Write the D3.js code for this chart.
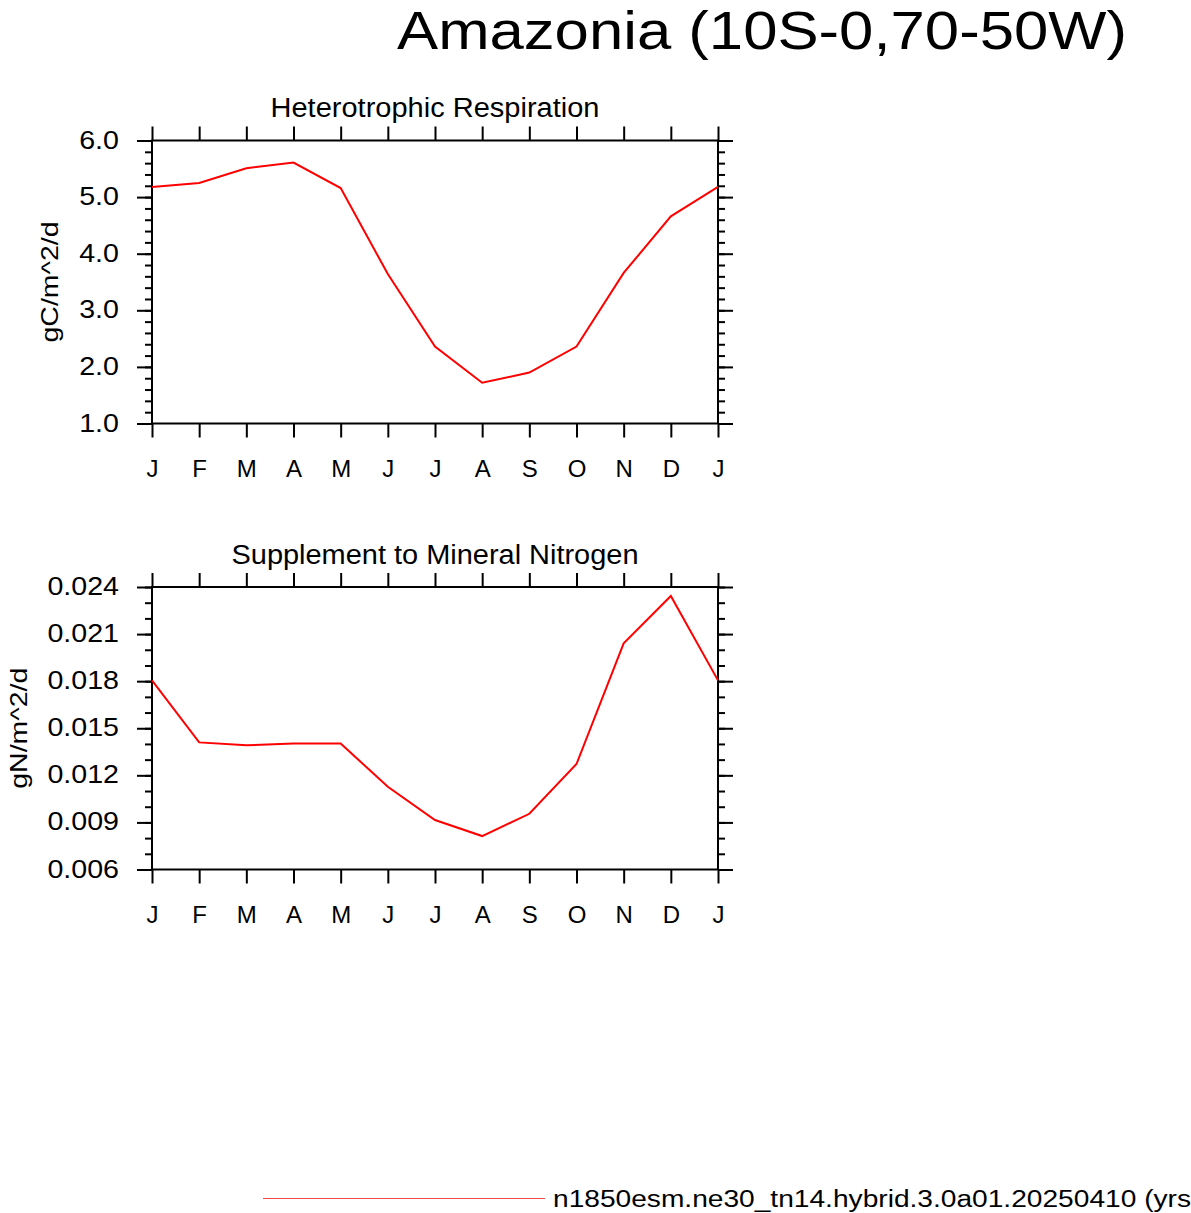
<!DOCTYPE html>
<html>
<head>
<meta charset="utf-8">
<script src="https://cdn.jsdelivr.net/npm/d3@7"></script>
<style>
  html, body { margin: 0; padding: 0; background: #fff; }
  svg { display: block; }
  text { font-family: "Liberation Sans", Arial, Helvetica, sans-serif; fill: #000; }
</style>
</head>
<body>
<svg id="chart" width="1191" height="1213"></svg>
<script>
// ---- data ----
const months = ["J","F","M","A","M","J","J","A","S","O","N","D","J"];
const hrValues = [5.18, 5.25, 5.51, 5.61, 5.16, 3.64, 2.36, 1.72, 1.90, 2.36, 3.66, 4.66, 5.18];
const snValues = [0.01805, 0.01410, 0.01391, 0.01403, 0.01403, 0.01127, 0.00915, 0.00813, 0.00955, 0.01272, 0.02041, 0.02343, 0.01805];
const hrTicks = [1.0, 2.0, 3.0, 4.0, 5.0, 6.0];
const hrTickLabels = ["1.0", "2.0", "3.0", "4.0", "5.0", "6.0"];
const snTicks = [0.006, 0.009, 0.012, 0.015, 0.018, 0.021, 0.024];
const snTickLabels = ["0.006", "0.009", "0.012", "0.015", "0.018", "0.021", "0.024"];
const hrMinorStep = 0.2;
const snMinorStep = 0.001;
const titleText = "Amazonia (10S-0,70-50W)";
const panelTitles = ["Heterotrophic Respiration", "Supplement to Mineral Nitrogen"];
const unitLabels = ["gC/m^2/d", "gN/m^2/d"];
const legendLabel = "n1850esm.ne30_tn14.hybrid.3.0a01.20250410 (yrs";

const svg = d3.select("#chart");

function stretch(sel, factor) {
  sel.each(function() {
    const len = this.getComputedTextLength();
    d3.select(this).attr("textLength", len * factor).attr("lengthAdjust", "spacingAndGlyphs");
  });
}

// Title
svg.append("text")
  .attr("x", 397).attr("y", 49)
  .attr("font-size", 54)
  .attr("textLength", 730).attr("lengthAdjust", "spacingAndGlyphs")
  .text(titleText);

const panels = [
  { title: panelTitles[0], unit: unitLabels[0], values: hrValues, ticks: hrTicks, tickLabels: hrTickLabels,
    minorStep: hrMinorStep, top: 140.5, bottom: 423.5, titleLen: 329, unitX: 58, unitLen: 121 },
  { title: panelTitles[1], unit: unitLabels[1], values: snValues, ticks: snTicks, tickLabels: snTickLabels,
    minorStep: snMinorStep, top: 587, bottom: 869.5, titleLen: 407, unitX: 27, unitLen: 121 }
];

const x = d3.scaleLinear().domain([0, 12]).range([152, 718]);
const monthIdx = d3.range(months.length);

panels.forEach(p => {
  const lo = p.ticks[0], hi = p.ticks[p.ticks.length - 1];
  const y = d3.scaleLinear().domain([lo, hi]).range([p.bottom, p.top]);
  const nMinor = Math.round((hi - lo) / p.minorStep);
  const minors = d3.range(nMinor + 1).map(i => lo + i * p.minorStep);
  const labelMap = new Map(p.ticks.map((t, i) => [t, p.tickLabels[i]]));
  const g = svg.append("g");

  // minor ticks
  const minorL = g.append("g").attr("transform", `translate(${x(0)},0)`)
    .call(d3.axisLeft(y).tickValues(minors).tickSize(7).tickFormat(""));
  const minorR = g.append("g").attr("transform", `translate(${x(12)},0)`)
    .call(d3.axisRight(y).tickValues(minors).tickSize(7).tickFormat(""));

  // major y ticks
  const left = g.append("g").attr("transform", `translate(${x(0)},0)`)
    .call(d3.axisLeft(y).tickValues(p.ticks).tickSize(15).tickPadding(18)
      .tickFormat(d => labelMap.get(d)));
  const right = g.append("g").attr("transform", `translate(${x(12)},0)`)
    .call(d3.axisRight(y).tickValues(p.ticks).tickSize(15).tickFormat(""));

  // x ticks
  const bottom = g.append("g").attr("transform", `translate(0,${p.bottom})`)
    .call(d3.axisBottom(x).tickValues(monthIdx).tickSize(14).tickPadding(23)
      .tickFormat(i => months[i]));
  const top = g.append("g").attr("transform", `translate(0,${p.top})`)
    .call(d3.axisTop(x).tickValues(monthIdx).tickSize(14).tickFormat(""));

  [minorL, minorR, left, right, bottom, top].forEach(a => {
    a.select(".domain").remove();
    a.selectAll("line").attr("stroke", "#000").attr("stroke-width", 2);
    a.attr("font-family", null).attr("font-size", null);
  });
  left.selectAll("text").attr("font-size", 25).attr("dy", "0.3em");
  stretch(left.selectAll("text"), 1.145);
  bottom.selectAll("text").attr("font-size", 24).attr("dy", "0.68em");

  // frame
  g.append("rect")
    .attr("x", x(0)).attr("y", p.top)
    .attr("width", x(12) - x(0)).attr("height", p.bottom - p.top)
    .attr("fill", "none").attr("stroke", "#000").attr("stroke-width", 2);

  // data line
  g.append("path")
    .datum(p.values)
    .attr("fill", "none").attr("stroke", "#ff0000").attr("stroke-width", 2)
    .attr("stroke-linejoin", "miter")
    .attr("d", d3.line().x((d, i) => x(i)).y(d => y(d)));

  // panel title
  g.append("text")
    .attr("x", (x(0) + x(12)) / 2).attr("y", p.top - 23.5)
    .attr("text-anchor", "middle").attr("font-size", 27)
    .attr("textLength", p.titleLen).attr("lengthAdjust", "spacingAndGlyphs")
    .text(p.title);

  // unit label
  g.append("text")
    .attr("transform", `translate(${p.unitX},${(p.top + p.bottom) / 2}) rotate(-90)`)
    .attr("text-anchor", "middle").attr("font-size", 24)
    .attr("textLength", p.unitLen).attr("lengthAdjust", "spacingAndGlyphs")
    .text(p.unit);
});

// legend
svg.append("line")
  .attr("x1", 263).attr("x2", 545).attr("y1", 1198.5).attr("y2", 1198.5)
  .attr("stroke", "#f04848").attr("stroke-width", 1.2);
svg.append("text")
  .attr("x", 553).attr("y", 1206.5)
  .attr("font-size", 23)
  .attr("textLength", 638).attr("lengthAdjust", "spacingAndGlyphs")
  .text(legendLabel);
</script>
</body>
</html>
